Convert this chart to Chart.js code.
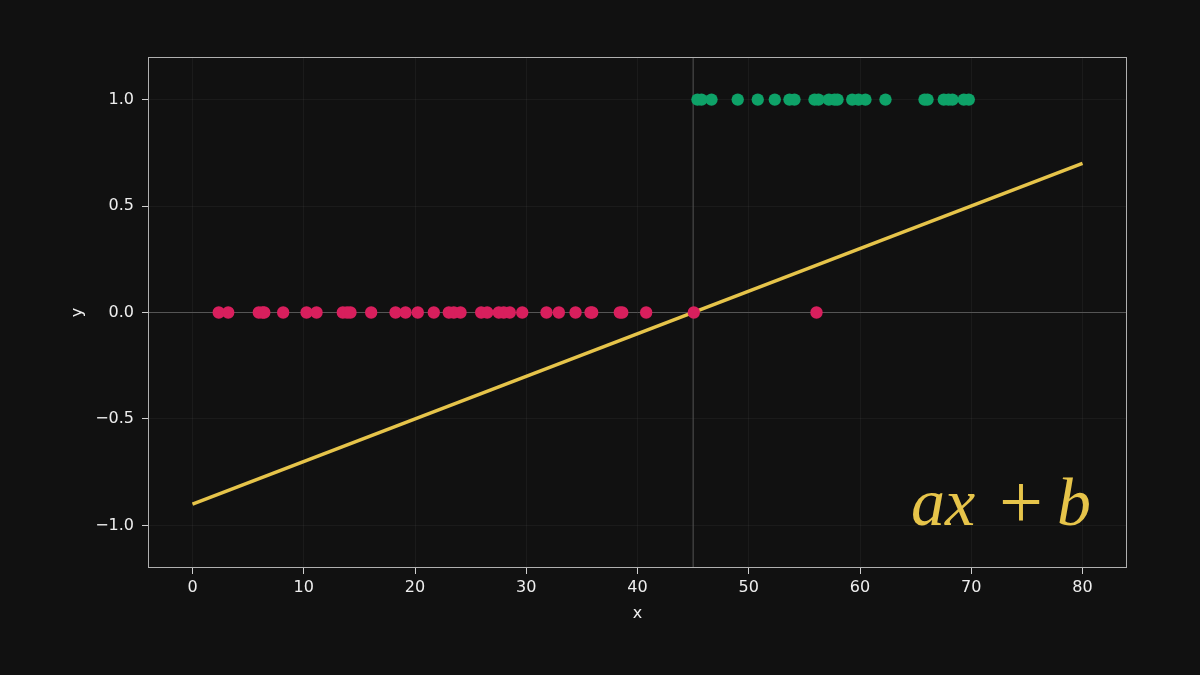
<!DOCTYPE html>
<html lang="en">
  <head>
    <meta charset="utf-8">
    <title>Linear fit on binary labels</title>
    <script src="https://cdn.jsdelivr.net/npm/chart.js@4.4.0/dist/chart.umd.min.js"></script>
    <style>
      html, body { margin: 0; padding: 0; background: #111111; }
      #wrap { width: 1200px; height: 675px; }
    </style>
  </head>
  <body>
    <div id="wrap"><canvas id="chart" width="1200" height="675"></canvas></div>
    <script>
      // class 0 samples (all at y = 0)
      const redX = [2.36, 3.21, 5.96, 6.3, 6.45, 8.15, 10.25, 11.15, 13.51, 13.9, 14.2, 16.06,
        18.25, 19.15, 20.25, 21.69, 23.04, 23.49, 24.09, 25.95, 26.49, 27.53, 27.98, 28.52,
        29.64, 31.82, 32.93, 34.43, 35.78, 35.93, 38.41, 38.63, 40.78, 45.06, 56.09];
      // class 1 samples (all at y = 1)
      const greenX = [45.39, 45.75, 46.65, 49.01, 50.81, 52.34, 53.66, 54.11, 55.91, 56.27,
        57.2, 57.71, 57.98, 59.3, 59.87, 60.49, 62.29, 65.8, 66.07, 67.53, 67.96, 68.31,
        69.33, 69.78];
      const redY = 0;
      const greenY = 1;

      // fitted line y = a*x + b
      const lineX = [0, 80];
      const lineY = [-0.9, 0.7];

      // reference lines
      const boundaryX = 45;
      const baselineY = 0;

      const xTicks = [0, 10, 20, 30, 40, 50, 60, 70, 80];
      const yTicks = [-1, -0.5, 0, 0.5, 1];
      const xRange = [-4, 84];
      const yRange = [-1.2, 1.2];

      const textCol = '#eeeeee';
      const fontFam = '"DejaVu Sans", sans-serif';
      const serif = '"Liberation Serif", "DejaVu Serif", serif';

      const bgPlugin = {
        id: 'bg',
        beforeDraw(chart) {
          const c = chart.ctx;
          c.save();
          c.fillStyle = '#111111';
          c.fillRect(0, 0, chart.width, chart.height);
          c.restore();
        },
        afterDraw(chart) {
          const c = chart.ctx;
          const a = chart.chartArea;
          c.save();
          // frame
          c.strokeStyle = '#b0b0b0';
          c.lineWidth = 1;
          c.strokeRect(a.left + 0.5, a.top + 0.5, a.right - a.left - 1, a.bottom - a.top - 1);
          // formula label "ax + b"
          const base = a.bottom - 43;
          c.fillStyle = '#e6c44a';
          c.textBaseline = 'alphabetic';
          c.font = 'italic 68px ' + serif;
          c.textAlign = 'left';
          c.fillText('ax', a.left + 763, base);
          c.textAlign = 'right';
          c.fillText('b', a.right - 36, base);
          c.font = '78px ' + serif;
          c.textAlign = 'center';
          c.fillText('+', a.left + 873, base + 3);
          c.restore();
        }
      };

      const fmt = v => {
        const s = Math.abs(v).toFixed(1);
        return v < 0 ? '\u2212' + s : s;
      };

      const ctx = document.getElementById('chart').getContext('2d');
      new Chart(ctx, {
        type: 'scatter',
        data: {
          datasets: [
            {
              label: 'class 0',
              data: redX.map(x => ({ x: x, y: redY })),
              backgroundColor: '#d81f5d',
              borderWidth: 0,
              pointRadius: 6.2,
              order: 1
            },
            {
              label: 'class 1',
              data: greenX.map(x => ({ x: x, y: greenY })),
              backgroundColor: '#0ea268',
              borderWidth: 0,
              pointRadius: 6.2,
              order: 1
            },
            {
              type: 'line',
              label: 'fit',
              data: lineX.map((x, i) => ({ x: x, y: lineY[i] })),
              borderColor: '#e6c44a',
              borderWidth: 3.5,
              pointRadius: 0,
              fill: false,
              order: 2
            },
            {
              type: 'line',
              label: 'boundary',
              data: [{ x: boundaryX, y: yRange[0] }, { x: boundaryX, y: yRange[1] }],
              borderColor: '#555555',
              borderWidth: 1,
              pointRadius: 0,
              order: 3
            },
            {
              type: 'line',
              label: 'baseline',
              data: [{ x: xRange[0], y: baselineY }, { x: xRange[1], y: baselineY }],
              borderColor: '#555555',
              borderWidth: 1,
              pointRadius: 0,
              order: 3
            }
          ]
        },
        options: {
          responsive: false,
          animation: false,
          layout: { padding: { left: 0, top: 57, right: 73, bottom: 0 } },
          plugins: { legend: { display: false }, tooltip: { enabled: false } },
          scales: {
            x: {
              type: 'linear',
              min: xRange[0],
              max: xRange[1],
              afterBuildTicks: s => { s.ticks = xTicks.map(v => ({ value: v })); },
              afterFit: s => { s.height = 107; },
              grid: { color: 'rgba(255,255,255,0.045)', tickColor: '#d0d0d0', tickLength: 6 },
              border: { display: false },
              ticks: {
                color: textCol, padding: 4, maxRotation: 0,
                font: { family: fontFam, size: 16 },
                callback: v => String(v)
              },
              title: {
                display: true, text: 'x', color: textCol,
                font: { family: fontFam, size: 16 },
                padding: { top: 0, bottom: 52 }
              }
            },
            y: {
              type: 'linear',
              min: yRange[0],
              max: yRange[1],
              afterBuildTicks: s => { s.ticks = yTicks.map(v => ({ value: v })); },
              afterFit: s => { s.width = 148; },
              grid: { color: 'rgba(255,255,255,0.045)', tickColor: '#d0d0d0', tickLength: 6 },
              border: { display: false },
              ticks: {
                color: textCol, padding: 8,
                font: { family: fontFam, size: 16 },
                callback: v => fmt(v)
              },
              title: {
                display: true, text: 'y', color: textCol,
                font: { family: fontFam, size: 16 },
                padding: { top: 68, bottom: 0 }
              }
            }
          }
        },
        plugins: [bgPlugin]
      });
    </script>
  </body>
</html>
